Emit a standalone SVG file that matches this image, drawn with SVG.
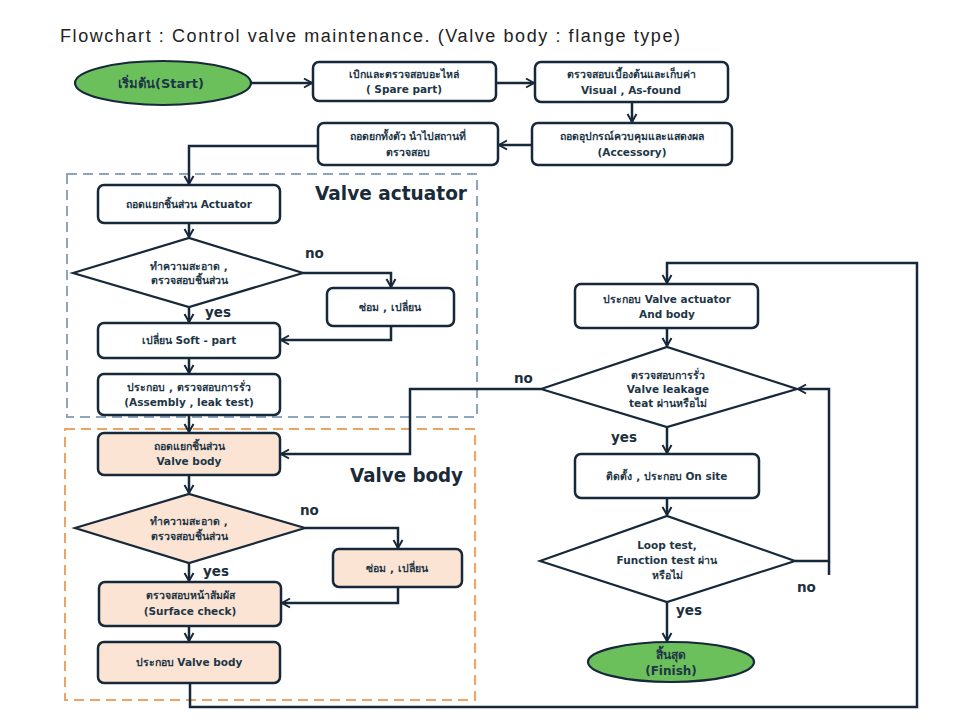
<svg xmlns="http://www.w3.org/2000/svg" width="967" height="726" viewBox="0 0 967 726">
<defs>
<style>
.box{fill:#ffffff;stroke:#17283a;stroke-width:2.5}
.pbox{fill:#fbe4d3;stroke:#17283a;stroke-width:2.5}
.dia{fill:#ffffff;stroke:#17283a;stroke-width:2.2}
.pdia{fill:#fbe4d3;stroke:#17283a;stroke-width:2.2}
.term{fill:#6cc05c;stroke:#17283a;stroke-width:2.2}
.t{font-family:"DejaVu Sans","Noto Sans",sans-serif;font-weight:bold;font-size:10.5px;fill:#1e3646;text-anchor:middle}
.lbl{font-family:"DejaVu Sans","Noto Sans",sans-serif;font-weight:bold;font-size:13.5px;fill:#1c2f3d}
.big{font-family:"DejaVu Sans","Noto Sans",sans-serif;font-weight:bold;font-size:20px;fill:#1a2a38}
.title{font-family:"Liberation Sans",Arial,sans-serif;font-size:18px;fill:#222222}
.c{fill:none;stroke:#17283a;stroke-width:2.5}
</style>
<marker id="ah" markerWidth="12" markerHeight="12" refX="9" refY="5" orient="auto" markerUnits="userSpaceOnUse" viewBox="0 0 12 10">
<path d="M1,0.5 L9,5 L1,9.5" fill="none" stroke="#17283a" stroke-width="2"/>
</marker>
</defs>
<rect x="0" y="0" width="967" height="726" fill="#ffffff"/>
<text class="title" x="60" y="42" textLength="620" lengthAdjust="spacing">Flowchart : Control valve maintenance. (Valve body : flange type)</text>

<g id="groups">
<rect x="67" y="174" width="410" height="243" fill="none" stroke="#8ea5be" stroke-width="2" stroke-dasharray="10 6"/>
<rect x="65" y="429" width="410" height="271" fill="none" stroke="#f0a262" stroke-width="2" stroke-dasharray="10 6"/>
<text class="big" x="315" y="200" textLength="152" lengthAdjust="spacingAndGlyphs">Valve actuator</text>
<text class="big" x="350" y="482" textLength="113" lengthAdjust="spacingAndGlyphs">Valve body</text>
</g>

<g id="connectors">
<path class="c" d="M251 83 H312" marker-end="url(#ah)"/>
<path class="c" d="M496 83 H534" marker-end="url(#ah)"/>
<path class="c" d="M632 102 V122" marker-end="url(#ah)"/>
<path class="c" d="M532 145 H499" marker-end="url(#ah)"/>
<path class="c" d="M318 146 H189 V184" marker-end="url(#ah)"/>
<path class="c" d="M189 223 V237" marker-end="url(#ah)"/>
<path class="c" d="M303 273 H391 V287" marker-end="url(#ah)"/>
<path class="c" d="M189 307 V322" marker-end="url(#ah)"/>
<path class="c" d="M391 326 V340 H281" marker-end="url(#ah)"/>
<path class="c" d="M189 358 V373" marker-end="url(#ah)"/>
<path class="c" d="M189 415 V432" marker-end="url(#ah)"/>
<path class="c" d="M189 475 V493" marker-end="url(#ah)"/>
<path class="c" d="M305 528 H398 V548" marker-end="url(#ah)"/>
<path class="c" d="M189 563 V581" marker-end="url(#ah)"/>
<path class="c" d="M398 587 V603 H282" marker-end="url(#ah)"/>
<path class="c" d="M189 626 V641" marker-end="url(#ah)"/>
<path class="c" d="M190 683 V707 H917 V263 H667 V283" marker-end="url(#ah)"/>
<path class="c" d="M667 329 V346" marker-end="url(#ah)"/>
<path class="c" d="M541 389 H410 V454 H281" marker-end="url(#ah)"/>
<path class="c" d="M667 427 V453" marker-end="url(#ah)"/>
<path class="c" d="M667 498 V515" marker-end="url(#ah)"/>
<path class="c" d="M795 561 H829 V389 H798" marker-end="url(#ah)"/>
<path class="c" d="M829 561 V575"/>
<path class="c" d="M667 602 V641" marker-end="url(#ah)"/>
<text class="lbl" x="305" y="258">no</text>
<text class="lbl" x="205" y="317">yes</text>
<text class="lbl" x="300" y="515">no</text>
<text class="lbl" x="203" y="576">yes</text>
<text class="lbl" x="514" y="383">no</text>
<text class="lbl" x="611" y="442">yes</text>
<text class="lbl" x="797" y="592">no</text>
<text class="lbl" x="676" y="615">yes</text>
</g>

<g id="start">
<ellipse class="term" cx="163" cy="83" rx="88" ry="22"/>
<text class="t" x="161" y="88" style="font-size:13px">เริ่มต้น(Start)</text>
</g>
<g id="spare">
<rect class="box" x="313" y="62" width="183" height="39" rx="6"/>
<text class="t" x="404" y="78">เบิกและตรวจสอบอะไหล่</text>
<text class="t" x="404" y="93">( Spare part)</text>
</g>
<g id="visual">
<rect class="box" x="535" y="62" width="193" height="40" rx="6"/>
<text class="t" x="631" y="78">ตรวจสอบเบื้องต้นและเก็บค่า</text>
<text class="t" x="631" y="94">Visual , As-found</text>
</g>
<g id="accessory">
<rect class="box" x="532" y="123" width="200" height="42" rx="6"/>
<text class="t" x="632" y="140">ถอดอุปกรณ์ควบคุมและแสดงผล</text>
<text class="t" x="632" y="156">(Accessory)</text>
</g>
<g id="remove">
<rect class="box" x="318" y="123" width="180" height="42" rx="6"/>
<text class="t" x="408" y="140">ถอดยกทั้งตัว  นำไปสถานที่</text>
<text class="t" x="408" y="156">ตรวจสอบ</text>
</g>
<g id="act-dis">
<rect class="box" x="98" y="185" width="182" height="38" rx="6"/>
<text class="t" x="189" y="208">ถอดแยกชิ้นส่วน Actuator</text>
</g>
<g id="act-clean">
<polygon class="dia" points="73,273 189,238 303,273 189,307"/>
<text class="t" x="189" y="270">ทำความสะอาด ,</text>
<text class="t" x="189" y="284">ตรวจสอบชิ้นส่วน</text>
</g>
<g id="act-repair">
<rect class="box" x="327" y="288" width="127" height="38" rx="6"/>
<text class="t" x="390" y="311">ซ่อม , เปลี่ยน</text>
</g>
<g id="act-soft">
<rect class="box" x="98" y="323" width="182" height="35" rx="6"/>
<text class="t" x="189" y="344">เปลี่ยน Soft - part</text>
</g>
<g id="act-assembly">
<rect class="box" x="98" y="374" width="182" height="41" rx="6"/>
<text class="t" x="189" y="391">ประกอบ , ตรวจสอบการรั่ว</text>
<text class="t" x="189" y="406">(Assembly , leak test)</text>
</g>
<g id="body-dis">
<rect class="pbox" x="98" y="433" width="182" height="42" rx="6"/>
<text class="t" x="189" y="450">ถอดแยกชิ้นส่วน</text>
<text class="t" x="189" y="465">Valve body</text>
</g>
<g id="body-clean">
<polygon class="pdia" points="75,528 189,494 305,528 189,563"/>
<text class="t" x="189" y="525">ทำความสะอาด  ,</text>
<text class="t" x="189" y="540">ตรวจสอบชิ้นส่วน</text>
</g>
<g id="body-repair">
<rect class="pbox" x="333" y="549" width="129" height="38" rx="6"/>
<text class="t" x="397" y="572">ซ่อม , เปลี่ยน</text>
</g>
<g id="body-surface">
<rect class="pbox" x="99" y="582" width="182" height="44" rx="6"/>
<text class="t" x="190" y="599">ตรวจสอบหน้าสัมผัส</text>
<text class="t" x="190" y="615">(Surface  check)</text>
</g>
<g id="body-assembly">
<rect class="pbox" x="98" y="642" width="182" height="41" rx="6"/>
<text class="t" x="189" y="666">ประกอบ Valve body</text>
</g>
<g id="assemble-both">
<rect class="box" x="575" y="284" width="183" height="44" rx="6"/>
<text class="t" x="667" y="303">ประกอบ Valve  actuator</text>
<text class="t" x="667" y="318">And body</text>
</g>
<g id="leak-test">
<polygon class="dia" points="541,389 667,347 797,389 667,427"/>
<text class="t" x="668" y="379">ตรวจสอบการรั่ว</text>
<text class="t" x="668" y="393">Valve  leakage</text>
<text class="t" x="668" y="407">teat ผ่านหรือไม่</text>
</g>
<g id="install">
<rect class="box" x="575" y="454" width="184" height="44" rx="6"/>
<text class="t" x="667" y="480">ติดตั้ง , ประกอบ On site</text>
</g>
<g id="loop-test">
<polygon class="dia" points="540,561 667,516 795,561 667,602"/>
<text class="t" x="667" y="549">Loop test,</text>
<text class="t" x="667" y="564">Function  test ผ่าน</text>
<text class="t" x="667" y="579">หรือไม่</text>
</g>
<g id="finish">
<ellipse class="term" cx="671" cy="662" rx="83" ry="20"/>
<text class="t" x="671" y="659" style="font-size:12px">สิ้นสุด</text>
<text class="t" x="671" y="675" style="font-size:12px">(Finish)</text>
</g>
</svg>
